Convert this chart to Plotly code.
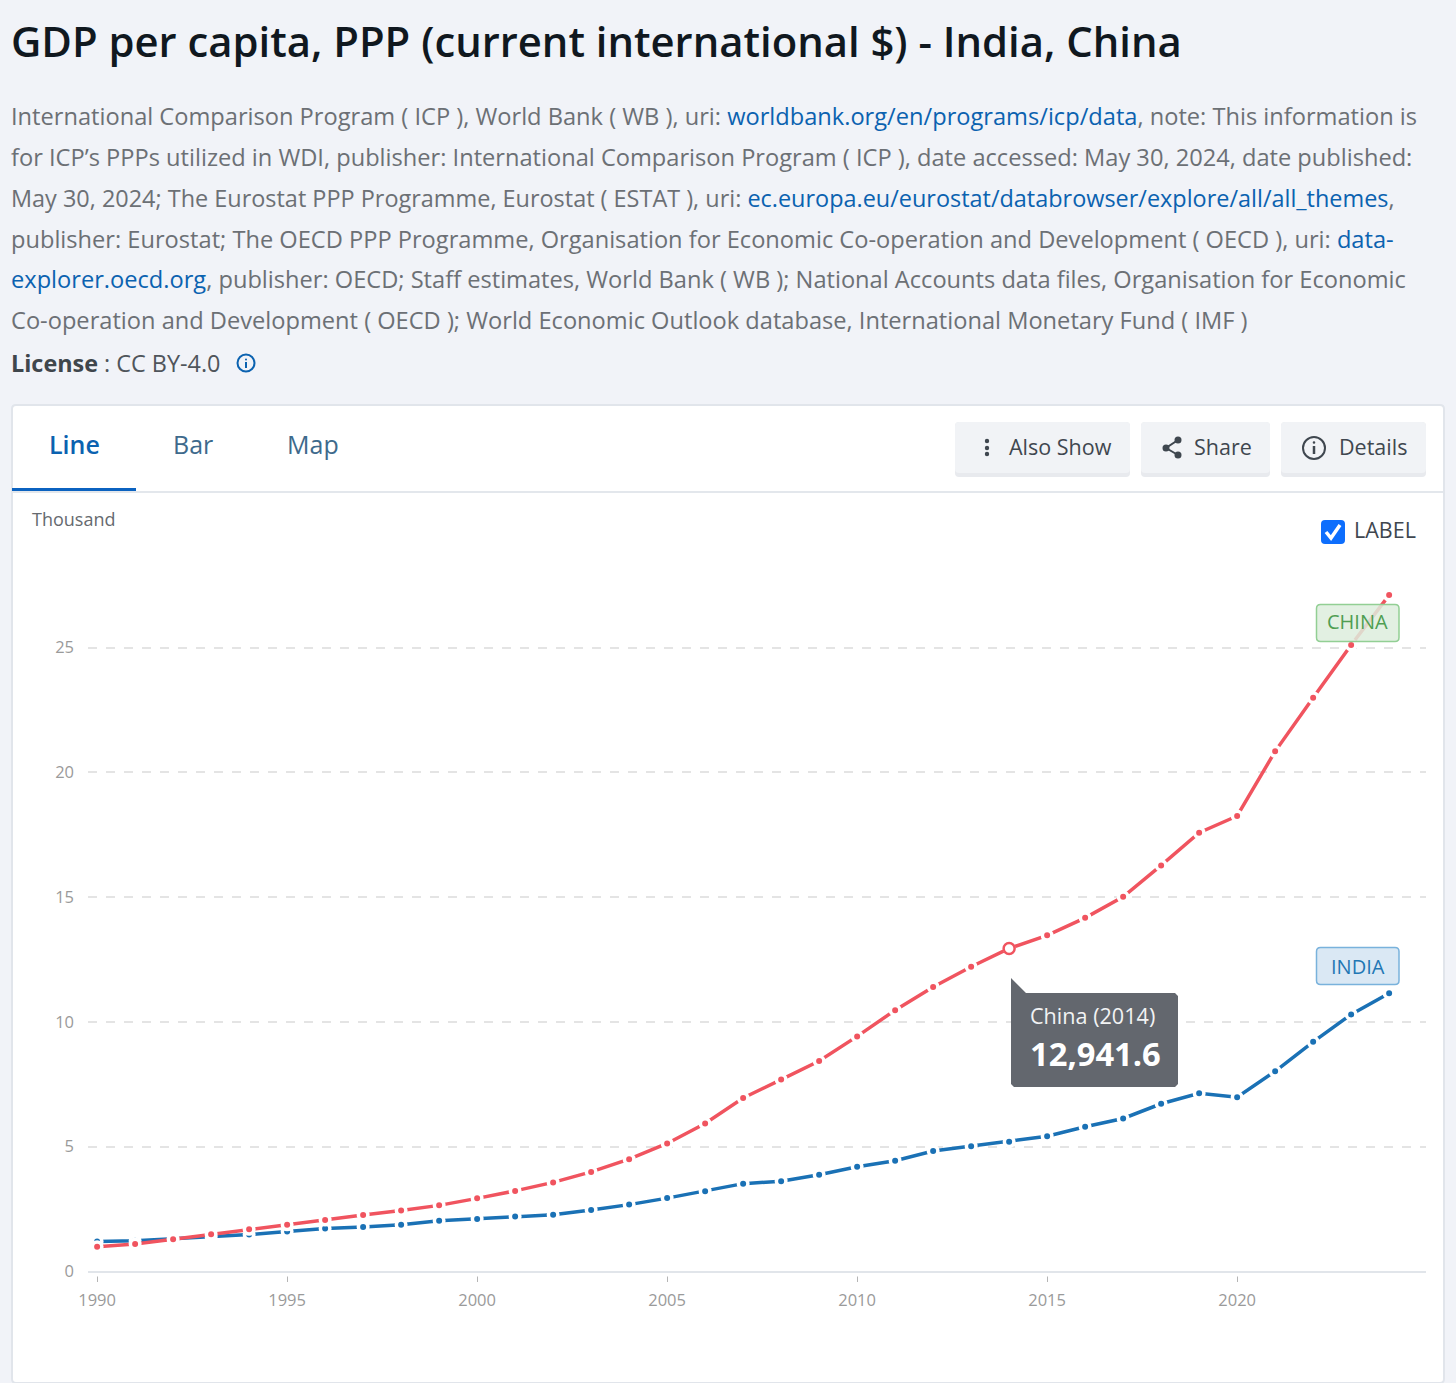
import plotly.graph_objects as go

W, H = 1456, 1383

years = list(range(1990, 2025))
china = [0.99, 1.10, 1.29, 1.49, 1.69, 1.87, 2.06, 2.26, 2.44, 2.65, 2.93, 3.23, 3.57, 3.99, 4.50, 5.13,
         5.93, 6.95, 7.69, 8.43, 9.42, 10.47, 11.40, 12.21, 12.9416, 13.47, 14.17, 15.01, 16.27, 17.58,
         18.25, 20.84, 22.99, 25.10, 27.10]
india = [1.20, 1.23, 1.31, 1.38, 1.48, 1.60, 1.72, 1.78, 1.87, 2.03, 2.10, 2.20, 2.27, 2.46, 2.68, 2.94,
         3.22, 3.52, 3.62, 3.88, 4.20, 4.44, 4.83, 5.02, 5.20, 5.42, 5.80, 6.13, 6.72, 7.14,
         6.98, 8.02, 9.20, 10.30, 11.15]
y_ticks = [0, 5, 10, 15, 20, 25]
x_ticks = [1990, 1995, 2000, 2005, 2010, 2015, 2020]
hover_year = 2014

title = "GDP per capita, PPP (current international $) - India, China"
link = '<span style="color:#0b62b0">%s</span>'
desc_lines = [
    "International Comparison Program ( ICP ), World Bank ( WB ), uri: " + link % "worldbank.org/en/programs/icp/data"
    + ", note: This information is",
    "for ICP’s PPPs utilized in WDI, publisher: International Comparison Program ( ICP ), date accessed: May 30, 2024, date published:",
    "May 30, 2024; The Eurostat PPP Programme, Eurostat ( ESTAT ), uri: "
    + link % "ec.europa.eu/eurostat/databrowser/explore/all/all_themes" + ",",
    "publisher: Eurostat; The OECD PPP Programme, Organisation for Economic Co-operation and Development ( OECD ), uri: "
    + link % "data-",
    link % "explorer.oecd.org" + ", publisher: OECD; Staff estimates, World Bank ( WB ); National Accounts data files, Organisation for Economic",
    "Co-operation and Development ( OECD ); World Economic Outlook database, International Monetary Fund ( IMF )",
]
desc_y = [116, 157, 198, 239, 279, 320]
desc_size = [23.64, 23.64, 23.45, 23.64, 23.64, 23.64]

FONT = "Open Sans"
RED = "#f0545f"
BLUE = "#1a71b5"


def px(x):
    return x / W


def py(y):
    return 1 - y / H


def text(x, y, s, size, color, anchor="left", weight=None):
    fig.add_annotation(xref="paper", yref="paper", x=px(x), y=py(y), text=s, showarrow=False,
                       xanchor=anchor, yanchor="middle", borderpad=0, borderwidth=0,
                       font=dict(family=FONT, size=size, color=color, weight=weight))


def rect(x0, y0, x1, y1, fill, line=None, lw=1, r=0, above=False):
    # rounded box in page pixels
    a, b, c, d = px(x0), py(y0), px(x1), py(y1)
    rx, ry = r / W, r / H
    if r:
        path = (f"M{a + rx},{b} L{c - rx},{b} Q{c},{b} {c},{b - ry} L{c},{d + ry} Q{c},{d} {c - rx},{d} "
                f"L{a + rx},{d} Q{a},{d} {a},{d + ry} L{a},{b - ry} Q{a},{b} {a + rx},{b} Z")
    else:
        path = f"M{a},{b} L{c},{b} L{c},{d} L{a},{d} Z"
    fig.add_shape(type="path", xref="paper", yref="paper", path=path, fillcolor=fill,
                  line=dict(color=line, width=lw if line else 0), layer="above" if above else "below")


def circle(cx, cy, r, fill, line=None, lw=1):
    fig.add_shape(type="circle", xref="paper", yref="paper", x0=px(cx - r), x1=px(cx + r),
                  y0=py(cy + r), y1=py(cy - r), fillcolor=fill,
                  line=dict(color=line, width=lw if line else 0), layer="above")


def poly(points, color=None, lw=2, fill=None):
    path = "M" + " L".join(f"{px(x)},{py(y)}" for x, y in points)
    if fill:
        path += " Z"
    fig.add_shape(type="path", xref="paper", yref="paper", path=path, fillcolor=fill,
                  line=dict(color=color, width=lw if color else 0), layer="above")


fig = go.Figure()

# card behind the chart
rect(12, 405, 1444, 1383, "white", "#e1e5eb", 2, r=4)
rect(13, 491, 1443, 493, "#e3e7ec")
rect(12, 488, 136, 491, "#0b62c0")

fig.add_trace(go.Scatter(x=years, y=india, mode="lines+markers", line=dict(color=BLUE, width=3.5),
                         marker=dict(size=9.5, color=BLUE, line=dict(color="white", width=3.5)),
                         cliponaxis=False, showlegend=False))
fig.add_trace(go.Scatter(x=years, y=china, mode="lines+markers", line=dict(color=RED, width=3.5),
                         marker=dict(size=9.5, color=RED, line=dict(color="white", width=3.5)),
                         cliponaxis=False, showlegend=False))
i = years.index(hover_year)
fig.add_trace(go.Scatter(x=[hover_year], y=[china[i]], mode="markers",
                         marker=dict(size=11, color="white", line=dict(color=RED, width=2.5)),
                         cliponaxis=False, showlegend=False))

# header text
text(11, 40.5, title, 41.8, "#10181f", weight=600)
for s, y, sz in zip(desc_lines, desc_y, desc_size):
    text(11, y, s, sz, "#6c7075")
text(11, 363, '<b style="color:#3f464c">License</b><span style="color:#4f555b"> : CC BY-4.0</span>', 23.4, "#4f555b")
circle(246, 363, 8.5, "rgba(0,0,0,0)", "#0b62b0", 2)
circle(246, 359.5, 1, "#0b62b0")
poly([(246, 362), (246, 368)], "#0b62b0", 2)

# tabs
text(74, 444, "Line", 25, "#0b62b0", "center", weight=600)
text(193, 444, "Bar", 25, "#3e6a8c", "center")
text(313, 444, "Map", 25, "#3e6a8c", "center")

# buttons
for x0, x1 in [(955, 1130), (1141, 1270), (1281, 1426)]:
    rect(x0, 422, x1, 477, "#e8eaee", r=4)
    rect(x0, 422, x1, 473, "#f1f3f6", r=4)
text(1009, 446, "Also Show", 21.5, "#3f474f")
text(1194, 446, "Share", 21.5, "#3f474f")
text(1339, 446, "Details", 21.5, "#3f474f")
for y in (441, 448, 454):
    circle(987, y, 2.2, "#3f474f")
poly([(1178, 440), (1166, 448), (1178, 455)], "#3f474f", 2)
circle(1178, 440, 3.5, "#3f474f")
circle(1166, 448, 3.5, "#3f474f")
circle(1178, 455, 3.5, "#3f474f")
circle(1314, 448, 11, "rgba(0,0,0,0)", "#3f474f", 2)
circle(1314, 442.5, 1.3, "#3f474f")
poly([(1314, 446), (1314, 454)], "#3f474f", 2.5)

# chart furniture
text(32, 519, "Thousand", 18, "#666a6f")
rect(1321, 520, 1345, 544, "#0d6efd", r=4, above=True)
poly([(1326, 532), (1331, 538), (1340, 525)], "white", 3.5)
text(1354, 530, "LABEL", 21.5, "#3f474f")

# gap between axis line and ticks
rect(88, 1273, 1426, 1276.5, "white", above=True)

# series labels, line shows through faintly
rect(1316.5, 604.5, 1399, 641.5, "rgba(221,237,221,0.85)", "#92cf94", 1.5, r=4, above=True)
rect(1316.5, 947.5, 1399, 984.5, "rgba(214,230,243,0.9)", "#79b2dc", 1.5, r=4, above=True)
text(1357.5, 622, "CHINA", 20, "#4f9e52", "center")
text(1357.5, 966, "INDIA", 20, "#1f77b4", "center")

# tooltip
poly([(1011, 978), (1026, 993), (1175, 993), (1178, 996), (1178, 1084), (1175, 1087), (1014, 1087), (1011, 1084)],
     fill="#63676e")
text(1030, 1015, f"China ({hover_year})", 21.6, "#f2f3f4")
text(1030, 1053, f"<b>{china[i] * 1000:,.1f}</b>", 32.7, "white")

fig.update_layout(
    width=W, height=H, paper_bgcolor="#f1f3f8", plot_bgcolor="rgba(0,0,0,0)",
    margin=dict(l=0, r=0, t=0, b=0, autoexpand=False), showlegend=False, font=dict(family=FONT),
    xaxis=dict(domain=[px(88), px(1426)], range=[1989.76, 2024.97], tickvals=x_ticks,
               ticktext=[str(v) for v in x_ticks], showgrid=False, zeroline=False, showline=False,
               ticks="outside", ticklen=9, tickwidth=1, tickcolor="#b5b5b5", automargin=False,
               ticklabelstandoff=5, tickfont=dict(family=FONT, size=16.5, color="#9a9a9a"), anchor="y"),
    yaxis=dict(domain=[py(1271.5), py(560)], range=[0, (1271.5 - 560) / 24.96], tickvals=y_ticks,
               ticktext=[str(v) for v in y_ticks], showgrid=True, gridcolor="#e4e4e4", griddash="dash",
               gridwidth=1.5, zeroline=True, zerolinecolor="#e1e5ea", zerolinewidth=2, showline=False, automargin=False,
               ticks="", ticklabelstandoff=13, tickfont=dict(family=FONT, size=16.5, color="#9a9a9a"), anchor="x"),
)

fig.write_html("out.html", config={"displayModeBar": False}, post_script="document.body.style.margin='0'")
